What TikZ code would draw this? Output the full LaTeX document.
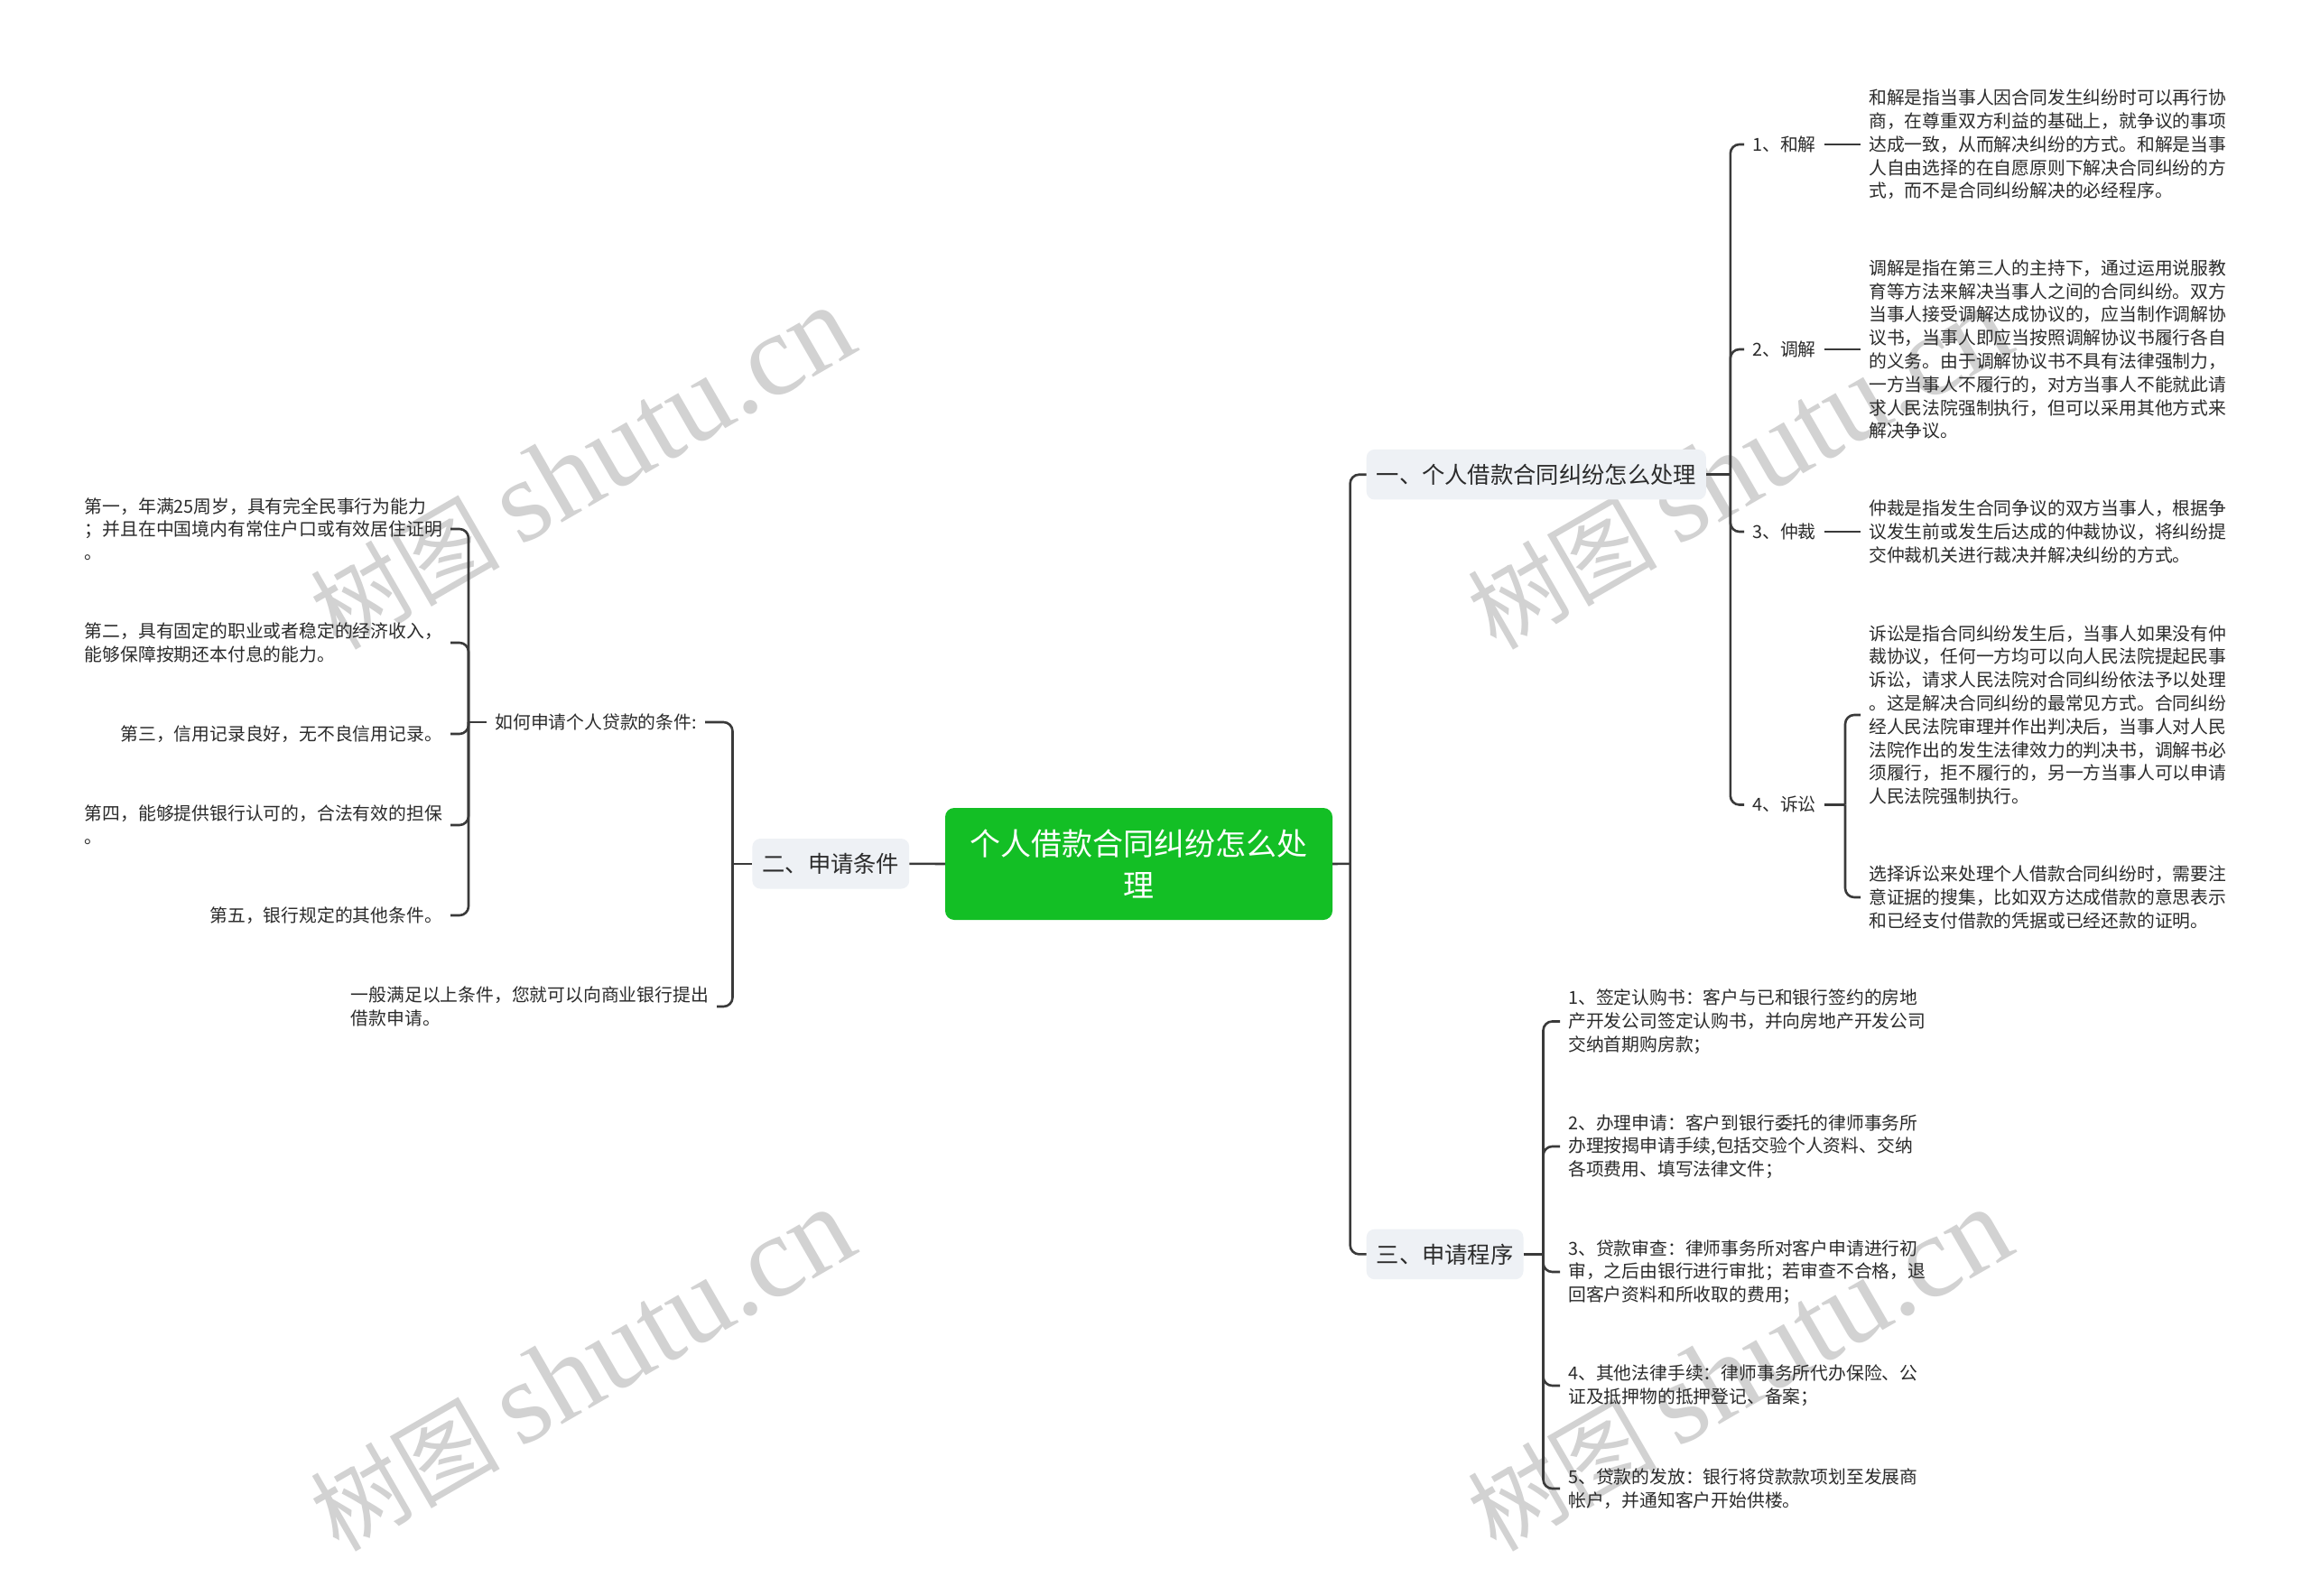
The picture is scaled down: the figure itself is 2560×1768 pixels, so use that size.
\documentclass[tikz,border=0pt]{standalone}
\usepackage{fontspec}
\setmainfont{Noto Sans CJK SC}
\newfontfamily\wmlatin{Liberation Serif}
\definecolor{linec}{HTML}{3A3A3A}
\definecolor{textc}{HTML}{2B2B2B}
\definecolor{boxc}{HTML}{EEF1F5}
\definecolor{rootc}{HTML}{13BF25}
\definecolor{wmc}{HTML}{D2D2D2}
\begin{document}
\begin{tikzpicture}[x=1pt,y=-1pt,
  line/.style={draw=linec,line width=2.6pt,rounded corners=10pt},
  leaf/.style={font=\fontsize{19.8}{25.8}\selectfont,text=textc,align=left,inner xsep=9pt,inner ysep=0pt},
  branch/.style={fill=boxc,rounded corners=9pt,font=\fontsize{25.3}{30}\selectfont,text=textc,inner xsep=11pt,minimum height=55.5pt},
  root/.style={fill=rootc,rounded corners=10pt,text=white,font=\fontsize{34}{46}\selectfont,align=center,minimum width=429pt,minimum height=124pt},
  wm/.style={text=wmc,rotate=30,inner sep=0pt}]
\useasboundingbox[fill=white] (0,0) rectangle (2560,1768);

% watermarks
\node[wm] (wm1) at (645,519) {\fontsize{105}{105}\selectfont 树图\hspace{22pt}{\wmlatin\fontsize{130}{130}\selectfont shutu.cn}};
\node[wm] (wm2) at (1927,519) {\fontsize{105}{105}\selectfont 树图\hspace{22pt}{\wmlatin\fontsize{130}{130}\selectfont shutu.cn}};
\node[wm] (wm3) at (645,1518) {\fontsize{105}{105}\selectfont 树图\hspace{22pt}{\wmlatin\fontsize{130}{130}\selectfont shutu.cn}};
\node[wm] (wm4) at (1927,1518) {\fontsize{105}{105}\selectfont 树图\hspace{22pt}{\wmlatin\fontsize{130}{130}\selectfont shutu.cn}};

% root and branches
\node[root] (root) at (1261.5,957) {个人借款合同纠纷怎么处\\理};
\node[branch,anchor=west] (b1) at (1513.5,525.7) {一、个人借款合同纠纷怎么处理};
\node[branch,anchor=west] (b3) at (1513.5,1389.4) {三、申请程序};
\node[branch,anchor=east] (b2) at (1007.4,956.8) {二、申请条件};

\coordinate (t0) at (1495.6,956.8);
\draw[line] (root.east) -- (t0);
\draw[line] (t0) |- (b1.west);
\draw[line] (t0) |- (b3.west);
\draw[line] (root.west) -- (b2.east);

% branch 1
\node[leaf,anchor=west] (l1) at (1932,160) {1、和解};
\node[leaf,anchor=west] (l2) at (1932,387) {2、调解};
\node[leaf,anchor=west] (l3) at (1932,589) {3、仲裁};
\node[leaf,anchor=west] (l4) at (1932,891.5) {4、诉讼};

\node[leaf,anchor=west] (x1) at (2061,160) {和解是指当事人因合同发生纠纷时可以再行协\\商，在尊重双方利益的基础上，就争议的事项\\达成一致，从而解决纠纷的方式。和解是当事\\人自由选择的在自愿原则下解决合同纠纷的方\\式，而不是合同纠纷解决的必经程序。};
\node[leaf,anchor=west] (x2) at (2061,387) {调解是指在第三人的主持下，通过运用说服教\\育等方法来解决当事人之间的合同纠纷。双方\\当事人接受调解达成协议的，应当制作调解协\\议书，当事人即应当按照调解协议书履行各自\\的义务。由于调解协议书不具有法律强制力，\\一方当事人不履行的，对方当事人不能就此请\\求人民法院强制执行，但可以采用其他方式来\\解决争议。};
\node[leaf,anchor=west] (x3) at (2061,589) {仲裁是指发生合同争议的双方当事人，根据争\\议发生前或发生后达成的仲裁协议，将纠纷提\\交仲裁机关进行裁决并解决纠纷的方式。};
\node[leaf,anchor=west] (x4a) at (2061,792) {诉讼是指合同纠纷发生后，当事人如果没有仲\\裁协议，任何一方均可以向人民法院提起民事\\诉讼，请求人民法院对合同纠纷依法予以处理\\。这是解决合同纠纷的最常见方式。合同纠纷\\经人民法院审理并作出判决后，当事人对人民\\法院作出的发生法律效力的判决书，调解书必\\须履行，拒不履行的，另一方当事人可以申请\\人民法院强制执行。};
\node[leaf,anchor=west] (x4b) at (2061,994) {选择诉讼来处理个人借款合同纠纷时，需要注\\意证据的搜集，比如双方达成借款的意思表示\\和已经支付借款的凭据或已经还款的证明。};

\coordinate (j1) at (1916.8,525.7);
\draw[line] (b1.east) -- (j1);
\draw[line] (j1) |- (l1.west);
\draw[line] (j1) |- (l2.west);
\draw[line] (j1) |- (l3.west);
\draw[line] (j1) |- (l4.west);
\draw[line] (l1.east) -- (x1.west);
\draw[line] (l2.east) -- (x2.west);
\draw[line] (l3.east) -- (x3.west);
\coordinate (j4) at (2044,891.5);
\draw[line] (l4.east) -- (j4);
\draw[line] (j4) |- (x4a.west);
\draw[line] (j4) |- (x4b.west);

% branch 3
\node[leaf,anchor=west] (p1) at (1728,1131.5) {1、签定认购书：客户与已和银行签约的房地\\产开发公司签定认购书，并向房地产开发公司\\交纳首期购房款；};
\node[leaf,anchor=west] (p2) at (1728,1270) {2、办理申请：客户到银行委托的律师事务所\\办理按揭申请手续,包括交验个人资料、交纳\\各项费用、填写法律文件；};
\node[leaf,anchor=west] (p3) at (1728,1409) {3、贷款审查：律师事务所对客户申请进行初\\审，之后由银行进行审批；若审查不合格，退\\回客户资料和所收取的费用；};
\node[leaf,anchor=west] (p4) at (1728,1535) {4、其他法律手续：律师事务所代办保险、公\\证及抵押物的抵押登记、备案；};
\node[leaf,anchor=west] (p5) at (1728,1649) {5、贷款的发放：银行将贷款款项划至发展商\\帐户，并通知客户开始供楼。};

\coordinate (j3) at (1709.5,1389.4);
\draw[line] (b3.east) -- (j3);
\draw[line] (j3) |- (p1.west);
\draw[line] (j3) |- (p2.west);
\draw[line] (j3) |- (p3.west);
\draw[line] (j3) |- (p4.west);
\draw[line] (j3) |- (p5.west);

% branch 2
\node[leaf,anchor=east] (q1) at (781,800) {如何申请个人贷款的条件:};
\node[leaf,anchor=east] (q2) at (794,1115) {一般满足以上条件，您就可以向商业银行提出\\借款申请。};
\coordinate (j2) at (811.5,956.8);
\draw[line] (b2.west) -- (j2);
\draw[line] (j2) |- (q1.east);
\draw[line] (j2) |- (q2.east);

\node[leaf,anchor=east] (c1) at (499,586) {第一，年满25周岁，具有完全民事行为能力\\；并且在中国境内有常住户口或有效居住证明\\。};
\node[leaf,anchor=east] (c2) at (499,712) {第二，具有固定的职业或者稳定的经济收入，\\能够保障按期还本付息的能力。};
\node[leaf,anchor=east] (c3) at (499,813) {第三，信用记录良好，无不良信用记录。};
\node[leaf,anchor=east] (c4) at (499,914) {第四，能够提供银行认可的，合法有效的担保\\。};
\node[leaf,anchor=east] (c5) at (499,1014) {第五，银行规定的其他条件。};
\coordinate (jq) at (519,800);
\draw[line] (q1.west) -- (jq);
\draw[line] (jq) |- (c1.east);
\draw[line] (jq) |- (c2.east);
\draw[line] (jq) |- (c3.east);
\draw[line] (jq) |- (c4.east);
\draw[line] (jq) |- (c5.east);
\end{tikzpicture}
\end{document}
